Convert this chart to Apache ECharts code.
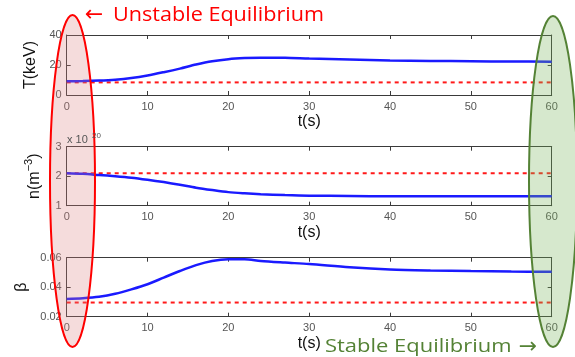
<!DOCTYPE html>
<html><head><meta charset="utf-8">
<script src="https://cdn.jsdelivr.net/npm/echarts@6/dist/echarts.min.js"></script>
<style>html,body{margin:0;padding:0;background:#fff}#c{width:575px;height:357px}</style>
</head><body><div id="c"></div>
<script>
const tVals    = [0, 2, 4, 6, 8, 10, 12, 14, 16, 18, 20, 22, 24, 27, 30, 35, 40, 45, 50, 55, 60];
const tempVals = [9.2, 9.3, 9.6, 10.2, 11.3, 13.0, 15.2, 17.6, 20.3, 22.5, 23.9, 24.6, 24.9, 24.8, 24.3, 23.6, 23.0, 22.7, 22.5, 22.3, 22.2];
const densVals = [2.10, 2.08, 2.04, 2.00, 1.95, 1.88, 1.80, 1.71, 1.61, 1.53, 1.46, 1.42, 1.39, 1.36, 1.34, 1.33, 1.32, 1.32, 1.32, 1.32, 1.32];
const betaVals = [0.032, 0.0325, 0.0335, 0.0355, 0.0385, 0.042, 0.0465, 0.051, 0.055, 0.0578, 0.0589, 0.0589, 0.0578, 0.0567, 0.0557, 0.0535, 0.052, 0.0513, 0.0509, 0.0506, 0.0505];
const refT = [0, 60];
const tempRef = 8.4, densRef = 2.10, betaRef = 0.0296;
const yTicksTemp = [0, 40, 20];   // min, max, interval
const yTicksDens = [1, 3, 1];
const yTicksBeta = [0.02, 0.06, 0.02];

const chart = echarts.init(document.getElementById('c'), null, {renderer: 'canvas'});
const grids = [
  {left: 66.7, top: 35, width: 485, height: 60},
  {left: 66.7, top: 146.7, width: 485, height: 59},
  {left: 66.7, top: 257.7, width: 485, height: 59}
];
const frame = '#3a3a3a';
const lblColor = '#555';
const font = 'Liberation Sans';
function xAxes(i) {
  return [{
    type: 'value', gridIndex: i, min: 0, max: 60, interval: 10, position: 'bottom',
    axisLine: {show: true, onZero: false, lineStyle: {color: frame, width: 1}},
    axisTick: {inside: true, length: 4, lineStyle: {color: frame}},
    axisLabel: {color: lblColor, fontSize: 11, fontFamily: font, margin: 6},
    splitLine: {show: false},
    name: 't(s)', nameLocation: 'middle', nameGap: 19,
    nameTextStyle: {color: '#111', fontSize: 16, fontFamily: font}
  }, {
    type: 'value', gridIndex: i, min: 0, max: 60, interval: 10, position: 'top',
    axisLine: {show: true, onZero: false, lineStyle: {color: frame, width: 1}},
    axisTick: {inside: true, length: 4, lineStyle: {color: frame}},
    axisLabel: {show: false}, splitLine: {show: false}
  }];
}
function yAxes(i, ticks, name, gap, fmt) {
  return [{
    type: 'value', gridIndex: i, min: ticks[0], max: ticks[1], interval: ticks[2], position: 'left',
    axisLine: {show: true, onZero: false, lineStyle: {color: frame, width: 1}},
    axisTick: {inside: true, length: 4, lineStyle: {color: frame}},
    axisLabel: {color: lblColor, fontSize: 11, fontFamily: font, margin: 5, formatter: fmt},
    splitLine: {show: false},
    name: name, nameLocation: 'middle', nameGap: gap, nameRotate: 90,
    nameTextStyle: {color: '#111', fontSize: 16, fontFamily: font,
      rich: {sup: {fontSize: 11, color: '#111', fontFamily: font, verticalAlign: 'top', padding: [0,0,10,0]}}}
  }, {
    type: 'value', gridIndex: i, min: ticks[0], max: ticks[1], interval: ticks[2], position: 'right',
    axisLine: {show: true, onZero: false, lineStyle: {color: frame, width: 1}},
    axisTick: {inside: true, length: 4, lineStyle: {color: frame}},
    axisLabel: {show: false}, splitLine: {show: false}
  }];
}
const xs = [].concat(xAxes(0), xAxes(1), xAxes(2));
const ys = [].concat(
  yAxes(0, yTicksTemp, 'T(keV)', 24, v => String(v)),
  yAxes(1, yTicksDens, 'n(m{sup|−3})', 22, v => String(v)),
  yAxes(2, yTicksBeta, 'β', 34, v => v.toFixed(2))
);
function blue(i, vals) {
  return {type: 'line', xAxisIndex: 2*i, yAxisIndex: 2*i, data: tVals.map((t, k) => [t, vals[k]]),
    smooth: 0.3, symbol: 'none', lineStyle: {color: '#1a1aff', width: 2.5}, z: 3};
}
function red(i, v) {
  return {type: 'line', xAxisIndex: 2*i, yAxisIndex: 2*i, data: refT.map(t => [t, v]),
    symbol: 'none', lineStyle: {color: '#ff1a1a', width: 2, type: [4, 4]}, z: 2};
}
chart.setOption({
  animation: false,
  grid: grids.map(g => Object.assign({show: false}, g)),
  xAxis: xs, yAxis: ys,
  series: [blue(0, tempVals), red(0, tempRef), blue(1, densVals), red(1, densRef), blue(2, betaVals), red(2, betaRef)],
  graphic: [
    {type: 'ellipse', shape: {cx: 72.5, cy: 181, rx: 22.5, ry: 166}, z: 100,
      style: {fill: 'rgba(220,130,128,0.28)', stroke: '#ff0000', lineWidth: 2}},
    {type: 'ellipse', shape: {cx: 553, cy: 181.5, rx: 24, ry: 165.5}, z: 100,
      style: {fill: 'rgba(120,180,90,0.3)', stroke: '#548235', lineWidth: 2}},
    {type: 'text', x: 94, y: 15, z: 101,
      style: {text: '←', fill: '#ff0000', font: '22px "DejaVu Sans"', align: 'center', verticalAlign: 'middle'}},
    {type: 'text', x: 113, y: 5, scaleX: 1.08, z: 101,
      style: {text: 'Unstable Equilibrium', fill: '#ff0000', font: '20px "Open Sans"', verticalAlign: 'top'}},
    {type: 'text', x: 325, y: 338, scaleX: 1.22, z: 101,
      style: {text: 'Stable Equilibrium', fill: '#548235', font: '18px "Open Sans"', verticalAlign: 'top'}},
    {type: 'text', x: 528, y: 347, z: 101,
      style: {text: '→', fill: '#548235', font: '22px "DejaVu Sans"', align: 'center', verticalAlign: 'middle'}},
    {type: 'text', left: 67, top: 134, z: 101,
      style: {text: 'x 10', fill: '#555', font: '11px "Liberation Sans"'}},
    {type: 'text', left: 92, top: 132, z: 101,
      style: {text: '20', fill: '#555', font: '8px "Liberation Sans"'}}
  ]
});
</script></body></html>
